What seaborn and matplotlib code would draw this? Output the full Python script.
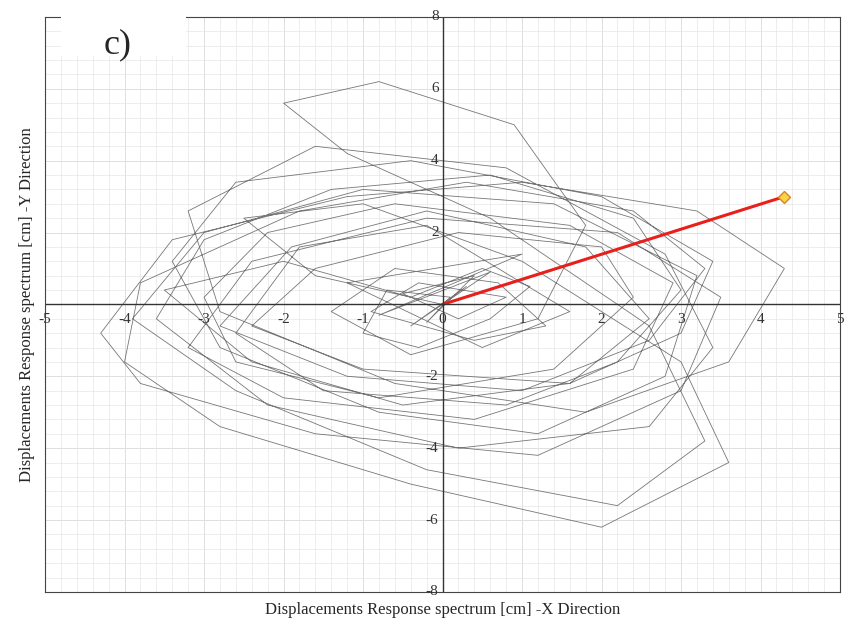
import numpy as np
import pandas as pd
import matplotlib
matplotlib.use('Agg')
from matplotlib import pyplot as plt
from matplotlib.ticker import MultipleLocator
from matplotlib.patches import Rectangle
import seaborn as sns

# displacement orbit (cm), hand-read approximate vertices of the trace
disp_x = [0.0, 0.3, -0.4, 0.6, -0.8, 1.0, -1.2, 0.5, 1.6, -0.2, -1.8, -2.6, -1.5, 0.8, 2.2, 3.0, 2.4,
          0.6, -1.4, -3.0, -3.6, -2.2, 0.2, 2.6, 3.4, 2.8, 0.8, -1.6, -3.2, -2.8, -0.6, 1.8, 3.6, 4.3,
          3.2, 1.0, -1.2, -3.4, -4.3, -3.8, -1.6, 1.2, 3.0, 3.5, 2.2, -0.2, -2.4, -3.2, -2.0, 0.4,
          2.4, 2.9, 1.6, -0.6, -2.2, -3.0, -2.6, -0.8, 1.4, 2.4, 2.0, 0.2, -1.6, -2.4, -1.0, 1.6,
          3.0, 3.4, 2.0, -0.4, -2.6, -3.4, -2.8, -0.8, 1.2, 2.8, 3.2, 1.4, -1.0, -3.0, -3.9, -2.6,
          -0.2, 2.2, 3.3, 2.6, 0.6, -1.2, -2.0, -0.8, 0.9, 1.8, 1.2, -0.4, -1.4, -0.6, 0.7, 1.3,
          0.4, -0.9, -0.3, 0.8, 0.2, -0.5, 0.4, -0.2, 0.1, -0.7, -1.0, -0.3, 0.6, 1.1, 0.5, -0.4,
          -2.0, -3.5, -2.4, -0.5, 1.6, 2.6, 1.8, -0.2, -1.9, -2.8, -1.2, 1.0, 2.6, 3.3, 2.4, 0.3,
          -1.8, -3.8, -4.0, -2.8, -0.4, 2.0, 3.6, 3.0, 1.0, -1.0, -2.5, -1.6, 0.0]
disp_y = [0.0, 0.5, -0.6, 0.9, -0.3, 1.4, 0.6, -1.2, -0.2, 2.2, 1.6, -0.8, -2.4, -2.8, -1.6, 0.4, 2.4,
          3.6, 3.2, 1.8, -0.4, -2.8, -4.0, -3.4, -1.2, 1.4, 3.8, 4.4, 2.6, -0.2, -2.2, -3.0, -1.6, 1.0,
          2.6, 3.4, 3.0, 1.8, -0.8, -2.2, -3.6, -4.2, -2.4, 0.2, 2.0, 2.4, 1.2, -1.2, -2.6, -3.2,
          -1.8, 0.6, 2.2, 2.8, 2.0, 0.2, -1.6, -2.6, -1.8, 0.2, 1.6, 2.0, 1.0, -0.6, -1.8, -2.2,
          -0.8, 1.2, 3.0, 4.0, 3.4, 1.2, -1.2, -3.0, -3.6, -2.0, 0.8, 2.8, 3.2, 2.0, -0.4, -2.4,
          -4.6, -5.6, -3.8, -0.6, 2.4, 4.2, 5.6, 6.2, 5.0, 2.2, -0.4, -1.4, -0.2, 1.0, 0.6, -0.6,
          -1.0, -0.2, 0.6, 0.2, -0.4, 0.3, 0.8, -0.5, 0.2, 0.4, -0.8, -1.2, -0.4, 0.5, 1.0, 0.2,
          1.2, 0.4, -1.6, -2.8, -2.2, -0.4, 1.6, 2.6, 1.6, -0.6, -2.0, -2.4, -1.0, 1.0, 2.6, 3.4,
          2.6, 0.6, -1.6, -3.4, -5.0, -6.2, -4.4, -1.6, 1.2, 2.8, 2.4, 0.8, 0.0]

max_x = [4.3]
max_y = [3.0]

sns.set_style("white")
plt.rcParams['font.family'] = ['Liberation Serif', 'DejaVu Serif']

fig = plt.figure(figsize=(8.66, 6.27), dpi=100)
ax = fig.add_axes([0.052, 0.056, 0.918, 0.917])

orbit = pd.DataFrame({'x': disp_x, 'y': disp_y})
sns.lineplot(data=orbit, x='x', y='y', sort=False, estimator=None, color='#555555',
             lw=0.6, alpha=0.8, ax=ax)
ax.plot([0, max_x[0]], [0, max_y[0]], color='#e8201c', lw=2.2)
ax.plot(max_x, max_y, marker='D', ms=6, mfc='#f7d54a', mec='#e08020', ls='none')

ax.set_xlim(-5, 5)
ax.set_ylim(-8, 8)
ax.set_xticks([])
ax.set_yticks([])
ax.xaxis.set_minor_locator(MultipleLocator(0.2))
ax.yaxis.set_minor_locator(MultipleLocator(0.4))
ax.tick_params(which='both', length=0)
ax.grid(which='minor', color='#e6e6e6', lw=0.5)
ax.set_axisbelow(True)

for s in ['top', 'right', 'left', 'bottom']:
    ax.spines[s].set_color('#444444')
    ax.spines[s].set_linewidth(0.8)
ax.axhline(0, color='#333333', lw=1.0)
ax.axvline(0, color='#333333', lw=1.0)

for v in range(-5, 6):
    ax.axvline(v, color='#d0d0d0', lw=0.7, zorder=0)
    ax.text(v, -0.25, str(v), ha='center', va='top', fontsize=11, color='#333333')
for v in range(-8, 9, 2):
    ax.axhline(v, color='#d0d0d0', lw=0.7, zorder=0)
    if v != 0:
        ax.text(-0.05, v, str(v), ha='right', va='center', fontsize=11, color='#333333')

ax.set_xlabel('Displacements Response spectrum [cm] -X Direction', fontsize=12)
ax.set_ylabel('Displacements Response spectrum [cm] -Y Direction', fontsize=12)

# white label box over the top-left corner of the frame
fig.patches.append(Rectangle((0.07, 0.91), 0.145, 0.09, transform=fig.transFigure,
                             facecolor='white', edgecolor='none', zorder=5))
fig.text(0.12, 0.915, 'c)', fontsize=26, zorder=10)

fig.savefig('out.png', dpi=100)
